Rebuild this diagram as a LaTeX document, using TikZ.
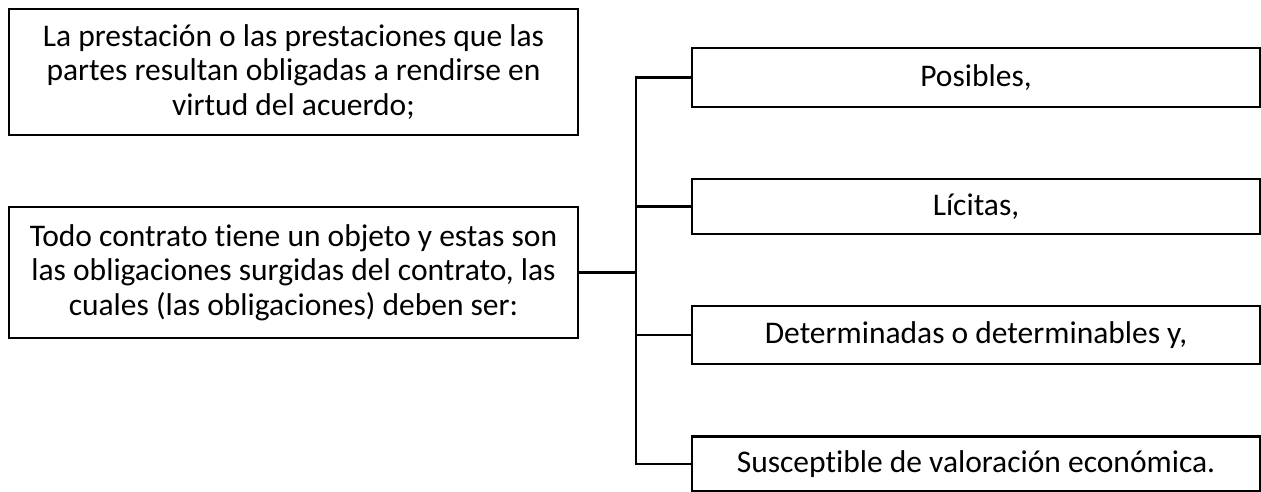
\documentclass[tikz,border=0pt]{standalone}
\usepackage{fontspec}
\setmainfont{Carlito}[Ligatures=NoCommon]
\begin{document}
\begin{tikzpicture}[x=1pt,y=-1pt,
  box/.style={draw=black,line width=2.4pt,rectangle,inner sep=0pt,outer sep=0pt,align=center,
    font=\fontsize{31.5}{34.5}\selectfont,text=black},
  link/.style={draw=black,line width=2.4pt}]
\useasboundingbox (0,0) rectangle (1261,492);
\node[box,minimum width=569pt,minimum height=126pt] (a) at (293.5,72)
  {La prestación o las prestaciones que las\\partes resultan obligadas a rendirse en\\virtud del acuerdo;};
\node[box,minimum width=569pt,minimum height=131pt] (b) at (293.5,272.5)
  {Todo contrato tiene un objeto y estas son\\las obligaciones surgidas del contrato, las\\cuales (las obligaciones) deben ser:};
\node[box,minimum width=568pt,minimum height=59pt] (p) at (976,77.5) {Posibles,};
\node[box,minimum width=568pt,minimum height=55pt] (l) at (976,206.5) {Lícitas,};
\node[box,minimum width=568pt,minimum height=58pt] (d) at (976,335) {Determinadas o determinables y,};
\node[box,minimum width=568pt,minimum height=55pt] (s) at (976,464) {Susceptible de valoración económica.};
\coordinate (bus) at (636,0);
\draw[link] (p.west) -| (bus |- s.west) -- (s.west);
\draw[link] (l.west) -- (l.west -| bus);
\draw[link] (d.west) -- (d.west -| bus);
\draw[link] (b.east) -- (b.east -| bus);
\end{tikzpicture}
\end{document}
